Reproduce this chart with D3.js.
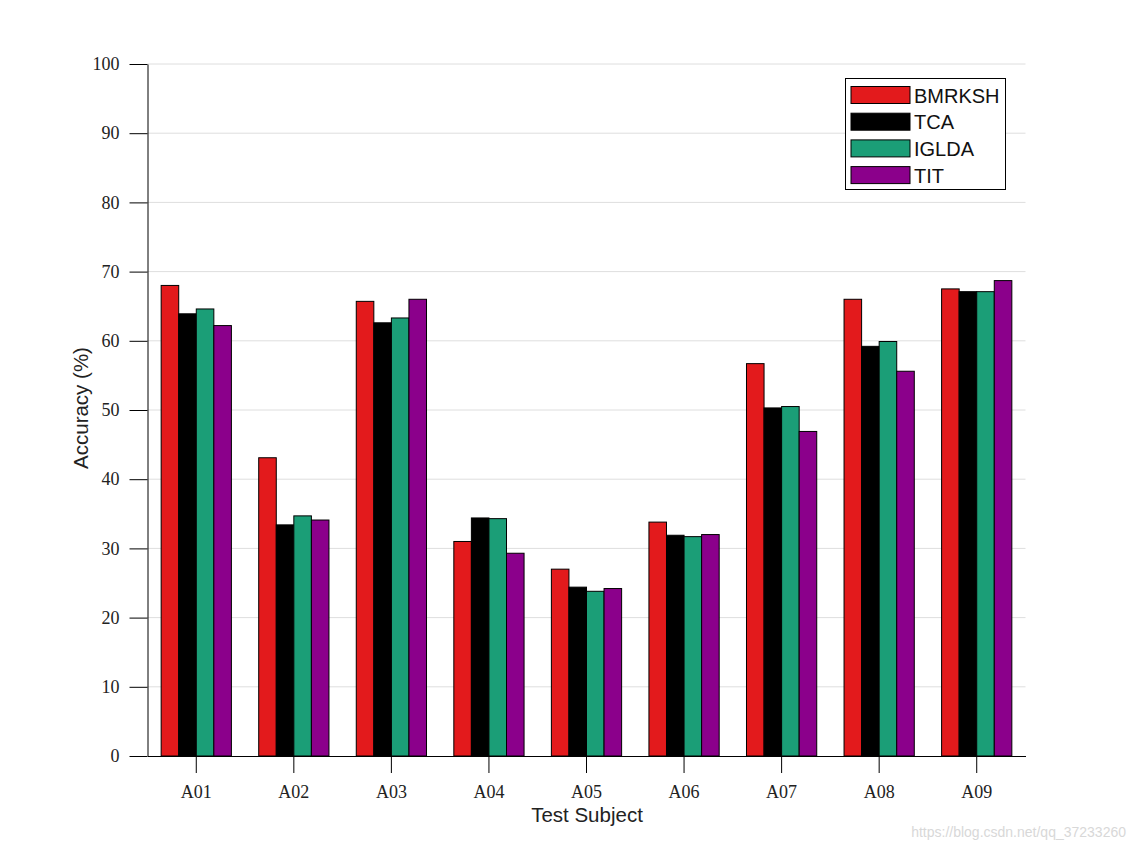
<!DOCTYPE html>
<html><head><meta charset="utf-8">
<script src="https://cdn.jsdelivr.net/npm/d3@7"></script>
<style>body{margin:0;background:#fff}</style>
</head><body>
<svg id="c" width="1134" height="850"></svg>
<script>
const categories = ["A01","A02","A03","A04","A05","A06","A07","A08","A09"];
const seriesNames = ["BMRKSH","TCA","IGLDA","TIT"];
const BMRKSH = [68.0, 43.1, 65.7, 31.0, 27.0, 33.8, 56.7, 66.0, 67.5];
const TCA    = [63.9, 33.4, 62.6, 34.4, 24.4, 31.9, 50.3, 59.2, 67.1];
const IGLDA  = [64.6, 34.7, 63.3, 34.3, 23.8, 31.7, 50.5, 59.9, 67.1];
const TIT    = [62.2, 34.1, 66.0, 29.3, 24.2, 32.0, 46.9, 55.6, 68.7];
const yTicks = [0,10,20,30,40,50,60,70,80,90,100];
const colors = ["#e31a1c","#000000","#1b9e77","#8b008b"];
const seriesValues = [BMRKSH, TCA, IGLDA, TIT];

const svg = d3.select("#c");
const L = 147.5, R = 1025.5, T = 64, B = 756;
const x = d3.scaleBand().domain(categories).range([L, R]).paddingInner(0).paddingOuter(0);
const inner = d3.scaleBand().domain(seriesNames).range([0, x.bandwidth()*0.72]);
const y = d3.scaleLinear().domain([0,100]).range([B, T]);

// grid
svg.append("g").selectAll("line").data(yTicks.filter(d=>d>0)).join("line")
  .attr("x1", L).attr("x2", R).attr("y1", d=>y(d)).attr("y2", d=>y(d))
  .attr("stroke", "#dedede").attr("stroke-width", 1);

// bars
const groupOff = (x.bandwidth() - x.bandwidth()*0.72)/2;
seriesNames.forEach((s, si) => {
  svg.append("g").selectAll("rect").data(seriesValues[si]).join("rect")
    .attr("x", (d,i) => x(categories[i]) + groupOff + inner(s))
    .attr("width", inner.bandwidth())
    .attr("y", d => y(d))
    .attr("height", d => B - y(d))
    .attr("fill", colors[si])
    .attr("stroke", "#000").attr("stroke-width", 1);
});

// axes
const yAxis = d3.axisLeft(y).tickValues(yTicks).tickSize(18).tickSizeOuter(0).tickPadding(10);
const gy = svg.append("g").attr("transform", `translate(${L},0)`).call(yAxis);
gy.selectAll("text").attr("font-family","'Liberation Serif','Times New Roman',serif").attr("font-size",18).attr("fill","#222");
gy.selectAll("line,path").attr("stroke","#000");

const xAxis = d3.axisBottom(x).tickSize(17).tickSizeOuter(0).tickPadding(12);
const gx = svg.append("g").attr("transform", `translate(0,${B})`).call(xAxis);
gx.selectAll("text").attr("font-family","'Liberation Serif','Times New Roman',serif").attr("font-size",18).attr("fill","#222");
gx.selectAll("line,path").attr("stroke","#000");

// titles
svg.append("text").attr("x", 587).attr("y", 822).attr("text-anchor","middle")
  .attr("font-family","'Liberation Sans',Arial,sans-serif").attr("font-size",20.5).attr("fill","#222").text("Test Subject");
svg.append("text").attr("transform","translate(88,408) rotate(-90)").attr("text-anchor","middle")
  .attr("font-family","'Liberation Sans',Arial,sans-serif").attr("font-size",20.5).attr("fill","#222").text("Accuracy (%)");

// legend
const lg = svg.append("g");
lg.append("rect").attr("x",845.5).attr("y",78.5).attr("width",160).attr("height",111)
  .attr("fill","#fff").attr("stroke","#000").attr("stroke-width",1);
seriesNames.forEach((s,i)=>{
  const cy = 95 + i*26.7;
  lg.append("rect").attr("x",851).attr("y",cy-8.5).attr("width",59).attr("height",17)
    .attr("fill",colors[i]).attr("stroke","#000").attr("stroke-width",1);
  lg.append("text").attr("x",914).attr("y",cy+7.5).attr("font-family","'Liberation Sans',Arial,sans-serif")
    .attr("font-size",20).attr("fill","#111").text(s);
});

// watermark
svg.append("text").attr("x",1126).attr("y",837).attr("text-anchor","end")
  .attr("font-family","'Liberation Sans',Arial,sans-serif").attr("font-size",14).attr("fill","#d8d8d8")
  .text("https://blog.csdn.net/qq_37233260");
</script>
</body></html>
